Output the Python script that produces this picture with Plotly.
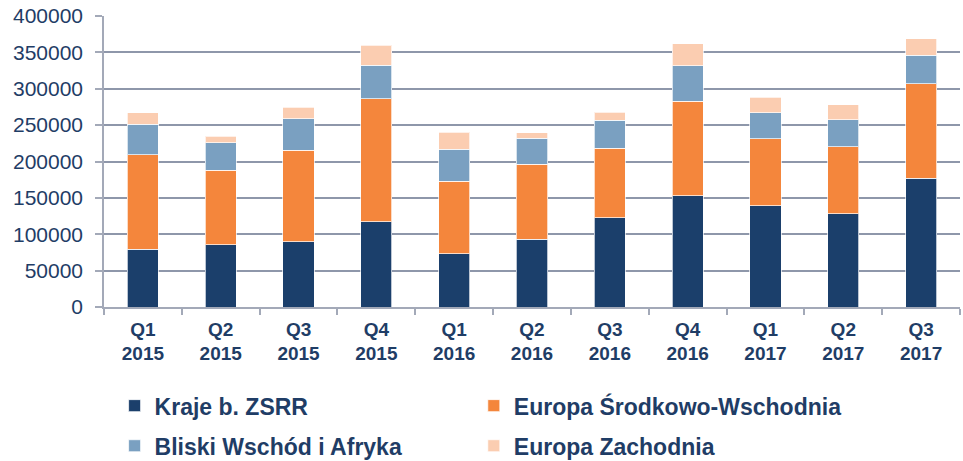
import plotly.graph_objects as go

categories = ["Q1<br>2015", "Q2<br>2015", "Q3<br>2015", "Q4<br>2015",
              "Q1<br>2016", "Q2<br>2016", "Q3<br>2016", "Q4<br>2016",
              "Q1<br>2017", "Q2<br>2017", "Q3<br>2017"]

kraje_zsrr = [79500, 85700, 90000, 117000, 73000, 93000, 123000, 153000, 139500, 128500, 177000]
europa_sw = [130000, 102000, 125500, 169500, 100000, 103000, 95500, 130000, 91500, 91500, 130000]
bliski_wschod = [42000, 38000, 43500, 46000, 44000, 36000, 38500, 48500, 36000, 37500, 39000]
europa_zach = [15500, 9000, 15500, 27000, 23000, 7500, 11000, 30500, 21500, 20500, 23000]

series = [
    ("Kraje b. ZSRR", kraje_zsrr, "#1b3f6b", "legend"),
    ("Europa Środkowo-Wschodnia", europa_sw, "#f4863c", "legend2"),
    ("Bliski Wschód i Afryka", bliski_wschod, "#7aa0c1", "legend3"),
    ("Europa Zachodnia", europa_zach, "#fbcdb1", "legend4"),
]

text_color = "#1f3d66"
grid_color = "#8e97aa"
axis_color = "#a3a9b8"

fig = go.Figure()
for name, vals, color, leg in series:
    fig.add_trace(go.Bar(
        x=categories, y=vals, name=name, legend=leg,
        marker=dict(color=color, line=dict(color="rgba(255,255,255,0.7)", width=1)),
        width=0.4,
    ))

legend_font = dict(family="Liberation Sans, Arial, sans-serif", size=23,
                   color=text_color, weight="bold")


def leg(x, y):
    return dict(orientation="v", xref="container", yref="container",
                x=x, y=y, xanchor="left", yanchor="middle",
                font=legend_font, bgcolor="rgba(0,0,0,0)")


fig.update_layout(
    barmode="stack",
    width=963, height=461,
    margin=dict(l=104, r=3, t=16, b=154, autoexpand=False),
    paper_bgcolor="white", plot_bgcolor="white",
    font=dict(family="Liberation Sans, Arial, sans-serif", color=text_color),
    showlegend=True,
    legend=leg(0.119, 0.120),
    legend2=leg(0.492, 0.120),
    legend3=leg(0.119, 0.033),
    legend4=leg(0.492, 0.033),
    xaxis=dict(
        type="category",
        automargin=False,
        tickson="boundaries",
        ticks="outside", ticklen=6, tickcolor=axis_color, tickwidth=1.5,
        showline=True, linecolor=axis_color, linewidth=1.5,
        ticklabelstandoff=4,
        tickfont=dict(family="Liberation Sans, Arial, sans-serif", size=19,
                      color=text_color, weight="bold"),
        showgrid=False,
    ),
    yaxis=dict(
        automargin=False,
        range=[0, 400000], dtick=50000, tickformat="d",
        ticks="outside", ticklen=7, tickcolor=axis_color, tickwidth=1.5,
        showline=True, linecolor=axis_color, linewidth=1.5,
        gridcolor=grid_color, gridwidth=1.5,
        ticklabelstandoff=8,
        tickfont=dict(family="Liberation Sans, Arial, sans-serif", size=21, color=text_color),
        zeroline=False,
    ),
)

fig.write_html("out.html", config={"displayModeBar": False},
               post_script="document.body.style.margin='0';")
